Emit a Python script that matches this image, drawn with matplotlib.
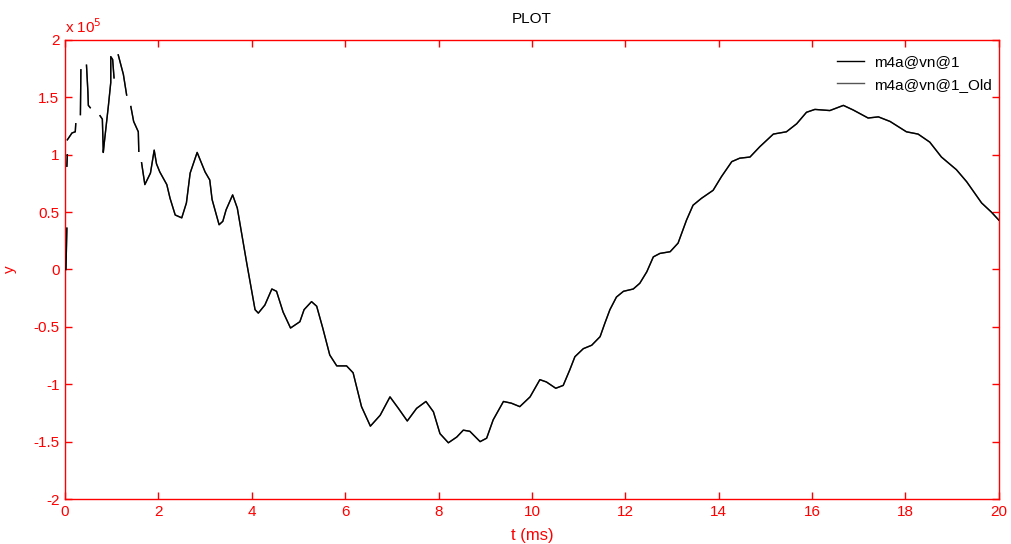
import numpy as np
import matplotlib
matplotlib.use("Agg")
import matplotlib.pyplot as plt
from matplotlib.ticker import FuncFormatter, MultipleLocator

plt.rcParams['font.family'] = ['Liberation Sans', 'DejaVu Sans']
plt.rcParams['axes.unicode_minus'] = False

nan = np.nan
# time in ms; NaN marks breaks in the recorded trace
t_ms = [0.02, 0.04, nan, 0.04, 0.05, nan, 0.05, 0.15, 0.22, 0.23, nan,
        0.33, 0.34, nan, 0.46, 0.49, 0.50, 0.54, nan,
        0.75, 0.80, 0.82, 0.84, 0.93, 0.98, 0.98, 1.02, 1.05, nan,
        1.14, 1.25, 1.32, nan, 1.41, 1.47, 1.57, 1.58, nan,
        1.64, 1.71, 1.83, 1.91, 1.96, 2.03, 2.18, 2.25, 2.36, 2.50, 2.60,
        2.68, 2.83, 3.00, 3.10, 3.15, 3.30, 3.38, 3.45, 3.59, 3.69, 3.89,
        4.07, 4.14, 4.28, 4.43, 4.53, 4.67, 4.83, 5.03, 5.12, 5.28, 5.39,
        5.52, 5.67, 5.82, 6.03, 6.17, 6.35, 6.54, 6.75, 6.96, 7.14, 7.33,
        7.53, 7.73, 7.89, 8.03, 8.21, 8.39, 8.53, 8.67, 8.89, 9.03, 9.17,
        9.39, 9.56, 9.74, 9.96, 10.17, 10.31, 10.51, 10.67, 10.81, 10.92,
        11.10, 11.28, 11.46, 11.56, 11.67, 11.81, 11.96, 12.17, 12.31,
        12.46, 12.60, 12.74, 12.96, 13.13, 13.31, 13.45, 13.63, 13.88,
        14.06, 14.28, 14.45, 14.67, 14.88, 15.17, 15.45, 15.67, 15.88,
        16.06, 16.38, 16.67, 16.88, 17.20, 17.42, 17.67, 18.02, 18.27,
        18.52, 18.77, 19.09, 19.31, 19.63, 19.84, 20.00]

# signal values in units of 1e5
y_new_e5 = [0.00, 0.36, nan, 0.90, 1.00, nan, 1.13, 1.19, 1.20, 1.27, nan,
            1.35, 1.74, nan, 1.78, 1.55, 1.43, 1.41, nan,
            1.34, 1.31, 1.02, 1.10, 1.43, 1.63, 1.855, 1.83, 1.67, nan,
            1.87, 1.70, 1.52, nan, 1.42, 1.29, 1.20, 1.03, nan,
            0.93, 0.74, 0.84, 1.04, 0.92, 0.85, 0.74, 0.62, 0.475, 0.45, 0.58,
            0.84, 1.02, 0.85, 0.78, 0.61, 0.39, 0.42, 0.52, 0.65, 0.535, 0.06,
            -0.35, -0.38, -0.31, -0.17, -0.19, -0.37, -0.51, -0.455, -0.35,
            -0.28, -0.32, -0.51, -0.745, -0.84, -0.84, -0.90, -1.195, -1.365,
            -1.27, -1.11, -1.21, -1.32, -1.21, -1.15, -1.24, -1.43, -1.51,
            -1.46, -1.40, -1.41, -1.50, -1.47, -1.31, -1.15, -1.165, -1.195,
            -1.11, -0.96, -0.98, -1.035, -1.01, -0.875, -0.76, -0.69, -0.66,
            -0.585, -0.47, -0.35, -0.24, -0.19, -0.17, -0.12, -0.02, 0.11,
            0.14, 0.155, 0.23, 0.43, 0.56, 0.62, 0.69, 0.81, 0.94, 0.97, 0.98,
            1.07, 1.18, 1.20, 1.27, 1.37, 1.395, 1.385, 1.43, 1.39, 1.32,
            1.33, 1.29, 1.20, 1.18, 1.11, 0.98, 0.87, 0.765, 0.58, 0.50, 0.43]

# previous run overlaps the current one
y_old_e5 = list(y_new_e5)

series_names = ["m4a@vn@1", "m4a@vn@1_Old"]
x_ticks = [0, 2, 4, 6, 8, 10, 12, 14, 16, 18, 20]

scale = 1e5
t = np.array(t_ms, dtype=float)
y_new = np.array(y_new_e5, dtype=float) * scale
y_old = np.array(y_old_e5, dtype=float) * scale

fig = plt.figure(figsize=(10.11, 5.44), dpi=100)
ax = fig.add_axes([0.0643, 0.0827, 0.9237, 0.8438])

ax.plot(t, y_new, color='black', lw=1.0, label=series_names[0], zorder=3)
ax.plot(t, y_old, color='#555555', lw=1.0, label=series_names[1], zorder=2)

ax.set_xlim(0, 20)
ax.set_ylim(-2e5, 2e5)
ax.set_xticks(x_ticks)
ax.yaxis.set_major_locator(MultipleLocator(0.5e5))
ax.yaxis.set_major_formatter(FuncFormatter(lambda v, p: f"{v/scale:g}"))

red = '#ff0000'
for s in ax.spines.values():
    s.set_color(red)
    s.set_linewidth(1.0)
ax.tick_params(colors=red, direction='in', length=5, width=1.0,
               top=True, right=True, labelsize=11, pad=4)

ax.set_xlabel("t (ms)", color=red, fontsize=12, labelpad=7)
ax.set_ylabel("y", color=red, fontsize=11, labelpad=12)
ax.set_title("PLOT", color='black', fontsize=11, pad=12)
ax.text(0.0, 1.008, r"x 10$^{5}$", transform=ax.transAxes, color=red,
        fontsize=11, ha='left', va='bottom')

leg = ax.legend(loc='upper right', bbox_to_anchor=(1.0, 0.982),
                frameon=False, fontsize=11, handlelength=1.75,
                handletextpad=0.7, labelspacing=0.55,
                borderaxespad=0.1, borderpad=0.35)

fig.savefig("out.png", dpi=100)
